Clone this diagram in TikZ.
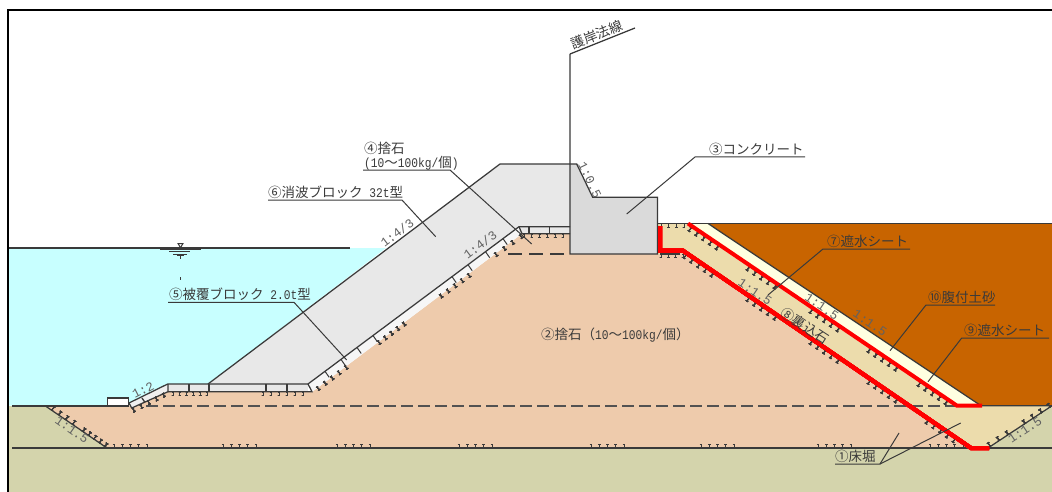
\documentclass[tikz,border=0pt]{standalone}
\usepackage{fontspec}
\setmainfont{Noto Sans CJK JP}
\newfontfamily\latinmono{Liberation Mono}
\newfontfamily\latinnarrow[FakeStretch=0.85]{Liberation Mono}
\usetikzlibrary{calc}
\definecolor{inkc}{HTML}{3A3A3A}
\definecolor{waterc}{HTML}{C8FFFF}
\definecolor{groundc}{HTML}{D4D4AC}
\definecolor{rubblec}{HTML}{EECBAC}
\definecolor{sandc}{HTML}{ECDCAC}
\definecolor{creamc}{HTML}{FFFFE0}
\definecolor{backc}{HTML}{C86400}
\definecolor{wavec}{HTML}{E8E8E8}
\definecolor{concc}{HTML}{DADADA}
\definecolor{redc}{HTML}{FF0000}
\newcommand{\hw}[1]{{\latinnarrow\fontsize{13.2}{14}\selectfont #1}}
\tikzset{
  x=1pt,y=-1pt,
  outline/.style={draw=inkc,line width=1.25pt},
  leader/.style={draw=inkc,line width=1pt},
  hatchmark/.style={draw=inkc,line width=.8pt},
  redline/.style={draw=redc,line width=4pt,line join=miter},
  lab/.style={text=inkc,inner sep=0pt,font=\fontsize{13.5}{14}\selectfont,anchor=base west},
  slopelab/.style={text=black!62,inner sep=0pt,font=\latinmono\fontsize{12.6}{13}\selectfont},
}
\newcommand{\hatch}[6]{%
  \pgfmathsetmacro\hlen{veclen(#3-#1,#4-#2)}%
  \pgfmathsetmacro\ux{(#3-#1)/\hlen}%
  \pgfmathsetmacro\uy{(#4-#2)/\hlen}%
  \pgfmathsetmacro\nx{-\uy*#6}%
  \pgfmathsetmacro\ny{\ux*#6}%
  \foreach \i in {0,...,#5}{%
    \pgfmathsetmacro\px{#1+(#3-#1)*\i/#5}%
    \pgfmathsetmacro\py{#2+(#4-#2)*\i/#5}%
    \draw[hatchmark] (\px,\py) -- ++(3.6*\nx,3.6*\ny) ++(-1.3*\ux,-1.3*\uy) -- ++(2.6*\ux,2.6*\uy);
    \draw[hatchmark] (\px,\py) ++(-1*\ux,-1*\uy) -- ++(2*\ux,2*\uy);
  }%
}
\begin{document}
\begin{tikzpicture}
\useasboundingbox (0,0) rectangle (1052,492);
% fills
\fill[white] (0,0) rectangle (1052,492);
\fill[groundc] (9,405.5) rectangle (1052,492);
\fill[waterc] (9,248) -- (386,248) -- (208,384) -- (168,384) -- (129,403) -- (129,405.5) -- (9,405.5) -- cycle;
\fill[backc] (708,223.5) -- (1052,223.5) -- (1052,405.7) -- (981,405.7) -- cycle;
\fill[creamc] (688,223.5) -- (708,223.5) -- (981,405.7) -- (957,405.7) -- cycle;
\fill[sandc] (657.5,223.5) -- (688,223.5) -- (957,405.7) -- (1052,405.7) -- (988,448) -- (971,448) -- (683,251) -- (657.5,254) -- cycle;
\fill[rubblec] (45,405.7) -- (107,448) -- (971,448) -- (683,251) -- (660,254) -- (570,254) -- (570,233.7) -- (522,233.7) -- (312,392) -- (168,392) -- (131.7,408) -- (129,405.7) -- cycle;
\fill[wavec] (208,384) -- (500,164) -- (577,164) -- (570,226.7) -- (519,226.7) -- (308,384) -- cycle;
\fill[wavec] (570,164) -- (500,164) -- (519,226.7) -- (570,226.7) -- cycle;
\fill[concc] (570,164) -- (576.7,164) -- (592.7,197.3) -- (657.5,197.3) -- (657.5,254) -- (570,254) -- cycle;
% armour blocks
\fill[wavec] (168,384) rectangle (308,392);
\fill[wavec!40!white] (308,384) -- (519,226.7) -- (522,233.7) -- (312,392) -- cycle;
\fill[wavec] (519,226.7) rectangle (570,233.7);
\fill[wavec!70!white] (129,403) -- (167.7,384) -- (168,391.7) -- (131.7,408) -- cycle;
\fill[white,draw=inkc,line width=1.2pt] (107.5,398) rectangle (128.5,405.7);
\draw[outline] (129,403) -- (167.7,384) -- (308,384) -- (519,226.7) -- (570,226.7);
\draw[outline] (129,403) -- (131.7,408) -- (168,391.7) -- (168,384);
\draw[outline] (168,391.7) -- (312,391.7) -- (308,384);
\draw[outline] (519,226.7) -- (522,233.7) -- (570,233.7);
\foreach \xx in {189,209,266,287} \draw[outline] (\xx,384) -- (\xx,391.7);
\foreach \xx in {529,549.7} \draw[outline] (\xx,226.7) -- (\xx,233.7);
\foreach \xx in {325,341,357,373,452,468,485.5,503} {
  \pgfmathsetmacro\yy{384-0.7455*(\xx-308)}
  \draw[draw=inkc,line width=1pt] (\xx,\yy) -- ++(4.2,6);
}
\draw[outline] (142,398) -- (145,402.5);
% structure outlines
\draw[outline] (208,384) -- (500,164) -- (577,164);
\draw[outline] (570,54) -- (570,254) -- (657.5,254) -- (657.5,197.3) -- (592.7,197.3) -- (576.7,164);
\draw[outline] (570,54) -- (635,28);
\draw[outline] (657.5,223.5) -- (1052,223.5);
\draw[outline] (708,223.5) -- (981,405.7) -- (1052,405.7);
% levels
\draw[draw=inkc,line width=1.6pt] (12,405.7) -- (129,405.7);
\draw[draw=black!68,line width=1.6pt,dash pattern=on 12pt off 5pt] (146,405.7) -- (957,405.7);
\draw[draw=inkc,line width=1.1pt,dash pattern=on 14pt off 7pt] (508,254) -- (570,254);
\draw[draw=inkc,line width=1.1pt] (660,254) -- (680,254);
\draw[draw=inkc,line width=1.1pt] (12,448) -- (1052,448);
\draw[outline] (45,405.7) -- (107,448);
\draw[outline] (988,448) -- (1052,405.7);
% water level and symbol
\draw[draw=inkc,line width=1.3pt] (9,248) -- (350,248);
\draw[draw=inkc,line width=1.1pt] (160,249.8) -- (201,249.8);
\draw[draw=inkc,line width=1pt] (169,251.8) -- (190,251.8);
\draw[draw=inkc,line width=.9pt] (173,254) -- (187,254);
\draw[draw=inkc,line width=.8pt] (177,255.8) -- (184,255.8);
\draw[draw=inkc,line width=.8pt] (180.5,256) -- (180.5,259);
\draw[draw=inkc,line width=.8pt] (180.5,277) -- (180.5,279.5);
\draw[draw=inkc,fill=white,line width=1pt] (178,243.5) -- (183,243.5) -- (180.5,247.7) -- cycle;
% bed hatches
\foreach \xs in {114,223,337,459,591,701,818,930} \hatch{\xs}{447.5}{\xs+33}{447.5}{4}{-1}
\hatch{173}{392}{207}{392}{5}{1}
\hatch{263}{392}{303}{392}{5}{1}
\hatch{524}{234}{563}{234}{5}{1}
\hatch{133}{408.5}{163}{393.5}{4}{1}
\hatch{317}{387}{345}{366}{4}{1}
\hatch{378}{341}{403}{322.5}{4}{1}
\hatch{440}{294.5}{468}{274}{4}{1}
\hatch{495}{253}{520}{235}{3}{1}
\hatch{52}{410}{73}{424}{3}{-1}
\hatch{83}{431.5}{105}{446.5}{4}{-1}
\hatch{990}{446}{1008}{434.5}{2}{-1}
\hatch{1025}{423.5}{1050}{407}{3}{-1}
\hatch{661}{223.5}{684}{223.5}{3}{1}
\hatch{661}{254}{683}{254}{3}{1}
\foreach \xs in {686,749,812,870,928} {
  \pgfmathsetmacro\ya{253+(\xs-683)*0.684}
  \pgfmathsetmacro\yb{253+(\xs+27-683)*0.684}
  \hatch{\xs}{\ya}{\xs+27}{\yb}{4}{1}
}
\foreach \xs in {691,749,812,870,920} {
  \pgfmathsetmacro\ya{226+(\xs-688)*0.677}
  \pgfmathsetmacro\yb{226+(\xs+27-688)*0.677}
  \hatch{\xs}{\ya}{\xs+27}{\yb}{4}{1}
}
% red sheets
\draw[redline] (660,226) -- (660,250.7) -- (683,250.7) -- (971,448) -- (989,448);
\draw[redline] (688,223.5) -- (957,405.7) -- (982,405.7);
% leaders
\coordinate (c4a) at (363,170); \coordinate (c4b) at (450,170); \coordinate (c4c) at (531.7,244);
\coordinate (c6a) at (268,200); \coordinate (c6b) at (402,200); \coordinate (c6c) at (435.7,236.7);
\coordinate (c5a) at (168,302.3); \coordinate (c5b) at (294,302.3); \coordinate (c5c) at (346.7,360);
\coordinate (c3a) at (805,157); \coordinate (c3b) at (695,157); \coordinate (c3c) at (626.7,214);
\coordinate (c7a) at (910,249); \coordinate (c7b) at (823,249); \coordinate (c7c) at (768,295);
\coordinate (c10a) at (995,305); \coordinate (c10b) at (926,305); \coordinate (c10c) at (890,350.7);
\coordinate (c9a) at (1049,338); \coordinate (c9b) at (961.7,338); \coordinate (c9c) at (928,381.7);
\coordinate (c1a) at (835,464); \coordinate (c1b) at (880,464); \coordinate (c1c) at (899,433); \coordinate (c1d) at (960.7,423);
\draw[leader] (c4a) -- (c4b) -- (c4c);
\draw[leader] (c6a) -- (c6b) -- (c6c);
\draw[leader] (c5a) -- (c5b) -- (c5c);
\draw[leader] (c3a) -- (c3b) -- (c3c);
\draw[leader] (c7a) -- (c7b) -- (c7c);
\draw[leader] (c10a) -- (c10b) -- (c10c);
\draw[leader] (c9a) -- (c9b) -- (c9c);
\draw[leader] (c1a) -- (c1b) -- (c1c);
\draw[leader] (c1b) -- (c1d);
% labels
\node[lab] (t4a) at (364,153.5) {④捨石};
\node[lab] (t4b) at (364,167.5) {\hw{(10}～\hw{100kg/}個\hw{)}};
\node[lab] (t6) at (268,197.5) {⑥消波ブロック\hw{ 32t}型};
\node[lab] (t5) at (169,299.5) {⑤被覆ブロック\hw{ 2.0t}型};
\node[lab] (t3) at (709,154.5) {③コンクリート};
\node[lab] (t2) at (541,339) {②捨石（\hw{10}～\hw{100kg/}個）};
\node[lab] (t7) at (827,246.5) {⑦遮水シート};
\node[lab] (t10) at (928,302.5) {⑩腹付土砂};
\node[lab] (t9) at (964,335.5) {⑨遮水シート};
\node[lab] (t1) at (835,461.5) {①床堀};
\node[lab,anchor=center,rotate=-33] (t8) at (805,326) {⑧裏込石};
\node[lab,anchor=center,rotate=22] (tn) at (597,35) {護岸法線};
% slope ratios
\node[slopelab,rotate=27] (s1) at (143,390) {1:2};
\node[slopelab,rotate=-35] (s2) at (72,430) {1:1.5};
\node[slopelab,rotate=37] (s3) at (397,233) {1:4/3};
\node[slopelab,rotate=37] (s4) at (480,245) {1:4/3};
\node[slopelab,rotate=-64] (s5) at (590,180) {1:0.5};
\node[slopelab,rotate=-34] (s6) at (755,292) {1:1.5};
\node[slopelab,rotate=-34] (s7) at (821.7,306.7) {1:1.5};
\node[slopelab,rotate=-34] (s8) at (870,323) {1:1.5};
\node[slopelab,rotate=34] (s9) at (1025,430) {1:1.5};
% frame
\draw[draw=black,line width=2pt] (1052,10.5) -- (8,10.5) -- (8,492);
\end{tikzpicture}
\end{document}
